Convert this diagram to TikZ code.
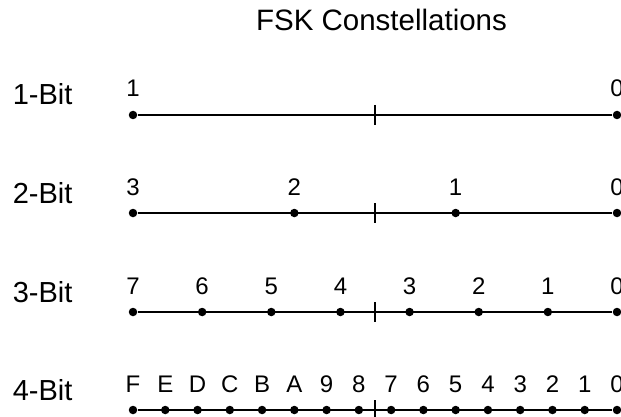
\documentclass[tikz,border=0pt]{standalone}
\usepackage{fontspec}
\setmainfont{Liberation Sans}
\usetikzlibrary{positioning}

\begin{document}
\begin{tikzpicture}[x=1pt, y=-1pt, line width=1.5pt]
\tikzset{dot/.style={circle, fill=black, inner sep=0pt, minimum size=8.5pt}, lbl/.style={font=\fontsize{24}{28}\selectfont, anchor=base, inner sep=0pt}, rowname/.style={font=\fontsize{29}{34}\selectfont, anchor=base west, inner sep=0pt}}
\useasboundingbox (0,0) rectangle (621,417);
\node[font=\fontsize{29.5}{34}\selectfont, anchor=base, inner sep=0pt] (title) at (381.5,30.5) {FSK Constellations};
\foreach \r/\t/\y/\n/\labs in {a/1-Bit/115/1/{1,0}, b/2-Bit/213/3/{3,2,1,0}, c/3-Bit/312/7/{7,6,5,4,3,2,1,0}, d/4-Bit/410/15/{F,E,D,C,B,A,9,8,7,6,5,4,3,2,1,0}} {
  \node[rowname] (\r name) at (12,\y-10) {\t};
  \foreach \l [count=\i from 0] in \labs {
    \node[dot] (\r\i) at ({133+\i*484/\n},\y) {};
    \node[lbl] (\r t\i) at ({133+\i*484/\n},\y-18) {\l};
  }
  \draw (\r0) -- (\r\n);
  \coordinate (\r mid) at (375,\y);
  \draw ([yshift=10pt]\r mid) -- ([yshift=-10pt]\r mid);
}
\end{tikzpicture}
\end{document}
